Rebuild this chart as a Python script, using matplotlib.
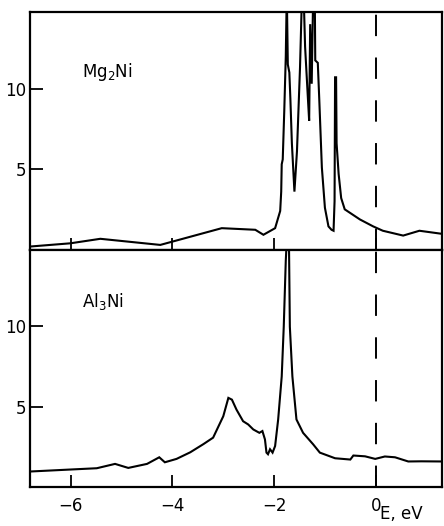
import matplotlib
matplotlib.use('Agg')

import matplotlib.pyplot as plt

plt.rcParams['font.family'] = ['DejaVu Sans']
plt.rcParams['mathtext.fontset'] = 'dejavusans'

MG_E = [-6.80, -6.01, -5.42, -4.24, -3.03, -2.37, -2.21, -1.98, -1.88, -1.86,
        -1.85, -1.83, -1.80, -1.77, -1.75, -1.73, -1.70, -1.68, -1.65, -1.60,
        -1.55, -1.49, -1.45, -1.42, -1.39, -1.34, -1.31, -1.29, -1.26, -1.23,
        -1.20, -1.19, -1.14, -1.11, -1.06, -1.00, -0.93, -0.87, -0.83, -0.81,
        -0.80, -0.78, -0.77, -0.73, -0.68, -0.61, -0.31, -0.05, 0.14, 0.54,
        0.86, 1.30]
MG_N = [0.19, 0.39, 0.67, 0.29, 1.33, 1.23, 0.92, 1.33, 2.40, 3.60,
        5.30, 5.60, 8.60, 12.0, 16.0, 11.5, 11.0, 9.40, 6.60, 3.60,
        6.10, 11.3, 16.0, 16.0, 12.6, 9.70, 8.00, 14.0, 10.3, 16.0,
        16.0, 11.75, 11.6, 9.25, 5.10, 2.60, 1.44, 1.23, 1.17, 3.00,
        10.7, 10.7, 6.60, 4.70, 3.20, 2.50, 1.87, 1.44, 1.17, 0.87,
        1.17, 0.98]

AL_E = [-6.78, -6.01, -5.49, -5.13, -4.87, -4.50, -4.26, -4.15, -3.92, -3.65,
        -3.39, -3.20, -3.00, -2.90, -2.83, -2.74, -2.61, -2.51, -2.41, -2.29,
        -2.23, -2.18, -2.15, -2.12, -2.08, -2.03, -1.98, -1.92, -1.85, -1.81,
        -1.77, -1.74, -1.71, -1.69, -1.64, -1.56, -1.43, -1.23, -1.10, -0.80,
        -0.50, -0.44, -0.21, -0.01, 0.18, 0.38, 0.64, 0.90, 1.30]
AL_N = [0.97, 1.09, 1.17, 1.44, 1.19, 1.44, 1.85, 1.54, 1.75, 2.16,
        2.67, 3.07, 4.40, 5.54, 5.43, 4.81, 4.09, 3.89, 3.58, 3.37,
        3.48, 2.96, 2.14, 2.04, 2.35, 2.14, 2.55, 4.20, 6.87, 9.96,
        14.07, 16.0, 16.0, 9.96, 6.87, 4.20, 3.37, 2.65, 2.14, 1.79,
        1.71, 1.96, 1.91, 1.75, 1.90, 1.85, 1.59, 1.60, 1.59]

XTICKS = [-6, -4, -2, 0]
XLABELS = ['\u22126', '\u22124', '\u22122', '0']
YTICKS = [5, 10]
LABELS = [r'Mg$_2$Ni', r'Al$_3$Ni']

fig = plt.figure(figsize=(4.44, 5.26), dpi=100)
gs = fig.add_gridspec(2, 1, left=0.068, right=0.995, bottom=0.074, top=0.977,
                      hspace=0)
ax1 = fig.add_subplot(gs[0])
ax2 = fig.add_subplot(gs[1], sharex=ax1)

for ax, e, n, lab, ly in [(ax1, MG_E, MG_N, LABELS[0], 11.0),
                          (ax2, AL_E, AL_N, LABELS[1], 11.5)]:
    ax.plot(e, n, color='black', lw=1.5, solid_joinstyle='miter')
    ax.axvline(0, color='black', lw=1.4, dashes=(11, 11))
    ax.set_xlim(-6.8, 1.3)
    ax.set_ylim(0, 14.75)
    ax.set_yticks(YTICKS)
    ax.set_xticks(XTICKS)
    ax.tick_params(direction='in', length=9, width=1.3, labelsize=12,
                   top=False, right=False, pad=3)
    for s in ax.spines.values():
        s.set_linewidth(1.6)
    ax.text(-5.78, ly, lab, fontsize=12, va='center', ha='left')

ax1.tick_params(axis='x', labelbottom=False)
ax2.set_xticklabels(XLABELS)
ax2.tick_params(axis='x', pad=7)

fig.text(380 / 444, 3 / 526, 'E, eV', fontsize=12, ha='left',
         va='bottom')

fig.savefig('out.png', dpi=100)
